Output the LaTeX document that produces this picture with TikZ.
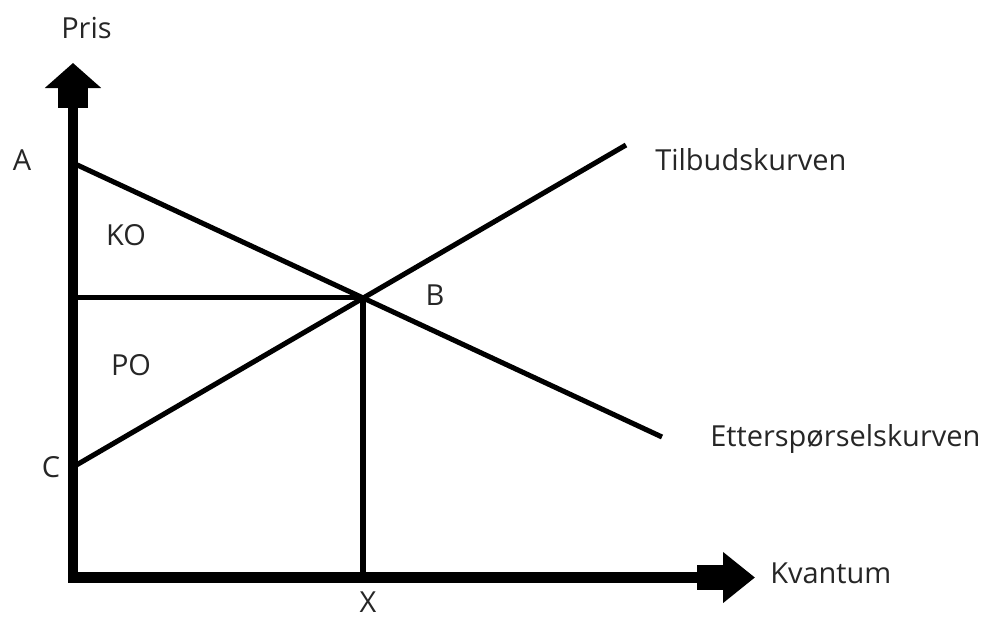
\documentclass[tikz,border=0pt]{standalone}
\usepackage{fontspec}
\setmainfont{Open Sans}
\usetikzlibrary{arrows.meta}

\tikzset{
  lbl/.style={inner sep=0pt, text=black!85, font=\fontsize{20.6}{24}\selectfont},
  kurve/.style={line width=3.6pt},
  akse/.style={line width=7.6pt, line cap=rect},
}

\begin{document}
\begin{tikzpicture}[x=0.025cm, y=-0.025cm]
  \useasboundingbox (0,0) rectangle (984,618);
  % punkter
  \coordinate (O) at (73,577.5);
  \coordinate (ytopp) at (73,63);
  \coordinate (xtopp) at (755,577.5);
  \coordinate (A) at (73,163);
  \coordinate (C) at (73,467);
  \coordinate (P) at (73,297.5);
  \coordinate (B) at (363,297.5);
  \coordinate (X) at (363,577.5);
  \coordinate (S) at (626,145);
  \coordinate (D) at (662,437);
  % akser
  \draw[akse, -{Rectangle[length=0.5cm,width=0.725cm,sep=0pt]Triangle[length=0.625cm,width=1.375cm,sep=0pt]}] (O) -- (ytopp);
  \draw[akse, -{Rectangle[length=0.65cm,width=0.625cm,sep=0pt]Triangle[length=0.8cm,width=1.225cm,sep=0pt]}] (O) -- (xtopp);
  % kurver
  \draw[kurve] (A) -- (D);
  \draw[kurve] (C) -- (S);
  \draw[kurve] (P) -- (B);
  \draw[kurve] (B) -- (X);
  % tekst
  \node[lbl, anchor=base west] (pris) at (61,38) {Pris};
  \node[lbl, anchor=base west] (kvantum) at (770,583) {Kvantum};
  \node[lbl, anchor=base] (lA) at (22,170) {A};
  \node[lbl, anchor=base] (lC) at (51,477) {C};
  \node[lbl, anchor=base] (lB) at (435,305) {B};
  \node[lbl, anchor=base] (lX) at (368,612) {X};
  \node[lbl, anchor=base] (ko) at (126,245) {KO};
  \node[lbl, anchor=base] (po) at (131,375) {PO};
  \node[lbl, anchor=base west] (tilbud) at (655,170) {Tilbudskurven};
  \node[lbl, anchor=base west] (etter) at (710,446) {Etterspørselskurven};
\end{tikzpicture}
\end{document}
